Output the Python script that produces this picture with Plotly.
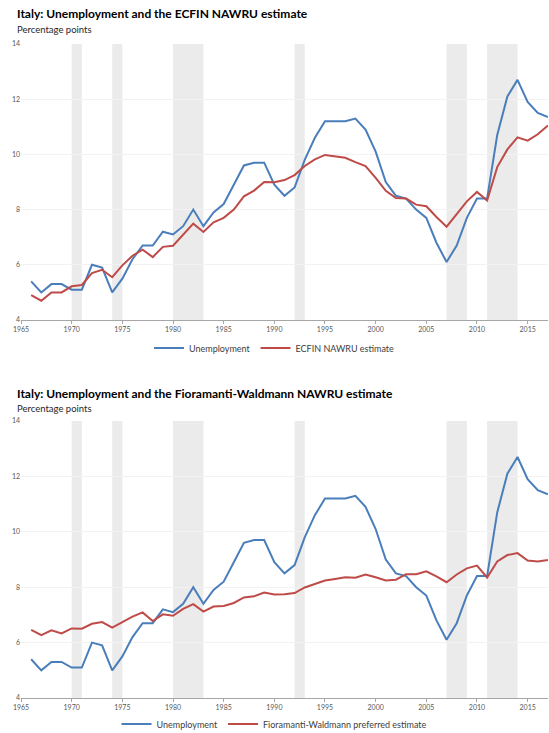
import plotly.graph_objects as go

# annual data 1966-2017
years = list(range(1966, 2018))

unemployment = [5.4, 5.0, 5.3, 5.3, 5.1, 5.1, 6.0, 5.9, 5.0, 5.5,
                6.2, 6.7, 6.7, 7.2, 7.1, 7.4, 8.0, 7.4, 7.9, 8.2,
                8.9, 9.6, 9.7, 9.7, 8.9, 8.5, 8.8, 9.8, 10.6, 11.2,
                11.2, 11.2, 11.3, 10.9, 10.1, 9.0, 8.5, 8.4, 8.0, 7.7,
                6.8, 6.1, 6.7, 7.7, 8.4, 8.4, 10.7, 12.1, 12.7, 11.9,
                11.5, 11.35]

ecfin_nawru = [4.9, 4.7, 5.0, 5.0, 5.22, 5.27, 5.7, 5.82, 5.55, 5.98,
               6.33, 6.55, 6.28, 6.65, 6.69, 7.09, 7.49, 7.19, 7.54, 7.7,
               8.0, 8.48, 8.69, 9.0, 8.99, 9.07, 9.25, 9.58, 9.82, 9.98,
               9.94, 9.88, 9.72, 9.58, 9.15, 8.68, 8.42, 8.4, 8.18, 8.12,
               7.73, 7.38, 7.84, 8.3, 8.64, 8.33, 9.54, 10.18, 10.62, 10.5,
               10.73, 11.05]

fw_nawru = [6.46, 6.27, 6.44, 6.33, 6.51, 6.5, 6.68, 6.74, 6.54, 6.75,
            6.94, 7.09, 6.78, 7.02, 6.97, 7.22, 7.39, 7.12, 7.3, 7.32,
            7.43, 7.63, 7.67, 7.81, 7.74, 7.75, 7.79, 7.99, 8.12, 8.24,
            8.3, 8.36, 8.34, 8.46, 8.36, 8.24, 8.27, 8.47, 8.47, 8.57,
            8.39, 8.18, 8.46, 8.68, 8.78, 8.35, 8.93, 9.16, 9.23, 8.96,
            8.93, 8.98]

# shaded recession periods (start, end)
recessions = [(1970, 1971), (1974, 1975), (1980, 1983), (1992, 1993),
              (2007, 2009), (2011, 2014)]

blue = '#4a7ebb'
red = '#be4b48'
shade = '#ebebeb'
font = 'Lato'

fig = go.Figure()
fig.add_trace(go.Scatter(x=years, y=unemployment, name='Unemployment', mode='lines',
                         line=dict(color=blue, width=2), xaxis='x', yaxis='y', legend='legend'))
fig.add_trace(go.Scatter(x=years, y=ecfin_nawru, name='ECFIN NAWRU estimate', mode='lines',
                         line=dict(color=red, width=2), xaxis='x', yaxis='y', legend='legend'))
fig.add_trace(go.Scatter(x=years, y=unemployment, name='Unemployment', mode='lines',
                         line=dict(color=blue, width=2), xaxis='x2', yaxis='y2', legend='legend2'))
fig.add_trace(go.Scatter(x=years, y=fw_nawru, name='Fioramanti-Waldmann preferred estimate', mode='lines',
                         line=dict(color=red, width=2), xaxis='x2', yaxis='y2', legend='legend2'))

shapes = []
for xr, yr in [('x', 'y'), ('x2', 'y2')]:
    for a, b in recessions:
        shapes.append(dict(type='rect', xref=xr, yref=yr + ' domain', x0=a, x1=b, y0=0, y1=1,
                           fillcolor=shade, line_width=0, layer='below'))

xaxis_style = dict(range=[1965, 2017], tickvals=list(range(1965, 2020, 5)), showgrid=False,
                   showline=True, linecolor='#a6a6a6', linewidth=1, ticks='outside', ticklen=3,
                   tickcolor='#a6a6a6', tickfont=dict(size=7, color='#595959'), zeroline=False,
                   domain=[0.0383, 0.998], automargin=False)
yaxis_style = dict(range=[4, 14], tickvals=[4, 6, 8, 10, 12, 14], showgrid=True,
                   gridcolor='#f2f2f2', gridwidth=1, zeroline=False, showline=False,
                   tickfont=dict(size=7, color='#595959'), ticks='', automargin=False)

title_font = dict(family=font, size=12, color='#000000')
sub_font = dict(family=font, size=9.5, color='#262626')
annotations = [
    dict(text='<b>Italy: Unemployment and the ECFIN NAWRU estimate</b>', x=15 / 549, y=1 - 14 / 733,
         xref='paper', yref='paper', xanchor='left', yanchor='middle', showarrow=False, font=title_font),
    dict(text='Percentage points', x=15 / 549, y=1 - 30 / 733,
         xref='paper', yref='paper', xanchor='left', yanchor='middle', showarrow=False, font=sub_font),
    dict(text='<b>Italy: Unemployment and the Fioramanti-Waldmann NAWRU estimate</b>', x=15 / 549, y=1 - 393 / 733,
         xref='paper', yref='paper', xanchor='left', yanchor='middle', showarrow=False, font=title_font),
    dict(text='Percentage points', x=15 / 549, y=1 - 408 / 733,
         xref='paper', yref='paper', xanchor='left', yanchor='middle', showarrow=False, font=sub_font),
]

legend_style = dict(orientation='h', xanchor='center', yanchor='middle', x=0.5,
                    font=dict(family=font, size=9, color='#404040'), bgcolor='rgba(0,0,0,0)',
                    itemwidth=30, tracegroupgap=0)

fig.update_layout(
    width=549, height=733, margin=dict(l=0, r=0, t=0, b=0, autoexpand=False),
    paper_bgcolor='white', plot_bgcolor='white',
    font=dict(family=font, color='#404040'),
    xaxis=dict(**xaxis_style, anchor='y'),
    yaxis=dict(**yaxis_style, domain=[1 - 320 / 733, 1 - 44 / 733], anchor='x'),
    xaxis2=dict(**xaxis_style, anchor='y2'),
    yaxis2=dict(**yaxis_style, domain=[1 - 698 / 733, 1 - 421 / 733], anchor='x2'),
    shapes=shapes, annotations=annotations,
    legend=dict(**legend_style, y=1 - 348 / 733),
    legend2=dict(**legend_style, y=1 - 724 / 733),
)

# drop the default page margin so the 549x733 figure fills the window exactly
fig.write_html('out.html', config={'displayModeBar': False},
               post_script="document.body.style.margin='0';document.body.style.overflow='hidden';")
